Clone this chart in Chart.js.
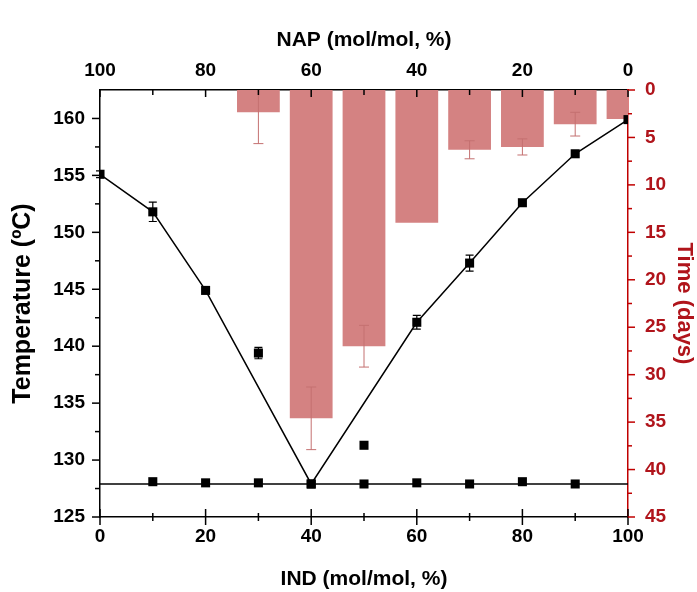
<!DOCTYPE html>
<html>
<head>
<meta charset="utf-8">
<script src="https://cdn.jsdelivr.net/npm/chart.js@4.4.0/dist/chart.umd.min.js"></script>
<style>
  html, body { margin: 0; padding: 0; background: #fff; }
  #wrap { width: 697px; height: 592px; }
</style>
</head>
<body>
<div id="wrap"><canvas id="chart"></canvas></div>
<script>
// liquidus points (joined by the V line)
const liqX = [0, 10, 20, 40, 60, 70, 80, 90, 100];
const liqTemp = [155.1, 151.8, 144.9, 127.9, 142.1, 147.3, 152.6, 156.9, 159.9];

// points off the V line
const oddX = [30, 50];
const oddTemp = [139.4, 131.3];

// eutectic points + horizontal line
const eutX = [10, 20, 30, 40, 50, 60, 70, 80, 90];
const eutTemp = [128.1, 128.0, 128.0, 127.9, 127.9, 128.0, 127.9, 128.1, 127.9];
const eutLineX = [0, 100];
const eutLineTemp = [127.9, 127.9];

// temperature error bars
const errX = [0, 10, 30, 60, 70];
const errTemp = [155.1, 151.8, 139.4, 142.1, 147.3];
const errSize = [0.3, 0.85, 0.5, 0.6, 0.7];

// time bars (days, right axis)
const barX = [30, 40, 50, 60, 70, 80, 90, 100];
const barDays = [2.35, 34.6, 27.0, 14.0, 6.3, 6.0, 3.6, 3.05];
const barErr = [3.3, 3.3, 2.2, 0, 0.95, 0.85, 1.25, 0];

// tick labels
const indTicks = [0, 20, 40, 60, 80, 100];
const napTicks = [100, 80, 60, 40, 20, 0];
const tempTicks = [125, 130, 135, 140, 145, 150, 155, 160];
const dayTicks = [0, 5, 10, 15, 20, 25, 30, 35, 40, 45];

const FONT = '"Liberation Sans", Arial, sans-serif';
const RED = '#c00000';
const RED_TEXT = '#b0141b';

const pts = (xs, ys) => xs.map((x, i) => ({ x: x, y: ys[i] }));
const mids = arr => arr.slice(1).map((v, i) => (v + arr[i]) / 2);
const setTicks = arr => s => { s.ticks = arr.map(v => ({ value: v })); };

// error bars for temperature points and time bars
const errorBars = {
    id: 'errorBars',
    afterDatasetsDraw(chart) {
        const { ctx, chartArea: a, scales } = chart;
        const x = scales.x, y = scales.y, y2 = scales.y2;
        const bar = (px, p1, p2, cap) => {
            ctx.beginPath();
            ctx.moveTo(px, p1); ctx.lineTo(px, p2);
            ctx.moveTo(px - cap, p1); ctx.lineTo(px + cap, p1);
            ctx.moveTo(px - cap, p2); ctx.lineTo(px + cap, p2);
            ctx.stroke();
        };
        ctx.save();
        ctx.beginPath();
        ctx.rect(a.left, a.top, a.right - a.left, a.bottom - a.top);
        ctx.clip();
        ctx.strokeStyle = '#c47070';
        ctx.lineWidth = 1;
        barX.forEach((v, i) => {
            if (!barErr[i]) return;
            bar(x.getPixelForValue(v),
                y2.getPixelForValue(barDays[i] - barErr[i]),
                y2.getPixelForValue(barDays[i] + barErr[i]), 5);
        });
        ctx.restore();

        ctx.save();
        ctx.strokeStyle = '#000';
        ctx.lineWidth = 1.2;
        errX.forEach((v, i) => {
            bar(x.getPixelForValue(v),
                y.getPixelForValue(errTemp[i] - errSize[i]),
                y.getPixelForValue(errTemp[i] + errSize[i]), 4);
        });
        ctx.restore();
    }
};

// major / minor tick marks like the original plot
const tickMarks = {
    id: 'tickMarks',
    afterDraw(chart) {
        const { ctx, chartArea: a, scales } = chart;
        const line = (x1, y1, x2, y2) => {
            ctx.beginPath(); ctx.moveTo(x1, y1); ctx.lineTo(x2, y2); ctx.stroke();
        };
        ctx.save();
        ctx.lineWidth = 1.5;
        ctx.strokeStyle = '#000';
        // left
        tempTicks.forEach(v => { const p = scales.y.getPixelForValue(v); line(a.left - 8, p, a.left, p); });
        mids(tempTicks).forEach(v => { const p = scales.y.getPixelForValue(v); line(a.left - 5, p, a.left, p); });
        // bottom
        indTicks.forEach(v => { const p = scales.x.getPixelForValue(v); line(p, a.bottom - 8, p, a.bottom + 8); });
        mids(indTicks).forEach(v => { const p = scales.x.getPixelForValue(v); line(p, a.bottom - 4, p, a.bottom + 4); });
        // top
        napTicks.forEach(v => { const p = scales.x2.getPixelForValue(v); line(p, a.top, p, a.top + 7); });
        mids(napTicks).forEach(v => { const p = scales.x2.getPixelForValue(v); line(p, a.top, p, a.top + 5); });
        // right
        ctx.strokeStyle = RED;
        dayTicks.forEach(v => { const p = scales.y2.getPixelForValue(v); line(a.right, p, a.right + 7, p); });
        mids(dayTicks).forEach(v => { const p = scales.y2.getPixelForValue(v); line(a.right, p, a.right + 4, p); });
        ctx.restore();
    }
};

const tickFont = { family: FONT, size: 19, weight: 'bold' };
const titleFont = { family: FONT, size: 21, weight: 'bold' };
const noGrid = { display: false, drawTicks: false, drawOnChartArea: false };

new Chart(document.getElementById('chart'), {
    type: 'bar',
    data: {
        datasets: [
            {
                type: 'line',
                data: pts(liqX, liqTemp),
                xAxisID: 'x', yAxisID: 'y',
                borderColor: '#000', borderWidth: 1.5,
                pointStyle: 'rect', pointRadius: 6.4,
                pointBackgroundColor: '#000', pointBorderWidth: 0,
                tension: 0, order: 1
            },
            {
                type: 'line',
                data: pts(eutLineX, eutLineTemp),
                xAxisID: 'x', yAxisID: 'y',
                borderColor: '#000', borderWidth: 1.5,
                pointRadius: 0, order: 2
            },
            {
                type: 'line',
                data: pts(eutX, eutTemp),
                xAxisID: 'x', yAxisID: 'y',
                showLine: false,
                pointStyle: 'rect', pointRadius: 6.4,
                pointBackgroundColor: '#000', pointBorderWidth: 0, order: 1
            },
            {
                type: 'line',
                data: pts(oddX, oddTemp),
                xAxisID: 'x', yAxisID: 'y',
                showLine: false,
                pointStyle: 'rect', pointRadius: 6.4,
                pointBackgroundColor: '#000', pointBorderWidth: 0, order: 1
            },
            {
                type: 'bar',
                data: pts(barX, barDays),
                xAxisID: 'x', yAxisID: 'y2',
                backgroundColor: '#d48282',
                borderWidth: 0,
                barPercentage: 0.81, categoryPercentage: 1,
                order: 5
            }
        ]
    },
    options: {
        responsive: true,
        maintainAspectRatio: false,
        animation: false,
        layout: { padding: 0 },
        plugins: {
            legend: { display: false },
            tooltip: { enabled: false }
        },
        scales: {
            x: {
                type: 'linear', position: 'bottom',
                min: 0, max: 100, offset: false,
                afterBuildTicks: setTicks(indTicks),
                afterFit: s => { s.height = 75; },
                grid: noGrid,
                border: { color: '#000', width: 1.5 },
                ticks: { color: '#000', font: tickFont, padding: 8, maxRotation: 0, autoSkip: false },
                title: { display: true, text: 'IND (mol/mol, %)', color: '#000', font: titleFont, padding: 0 }
            },
            x2: {
                type: 'linear', position: 'top', axis: 'x',
                min: 0, max: 100, reverse: true, offset: false,
                afterBuildTicks: setTicks(napTicks),
                afterFit: s => { s.height = 90; },
                grid: noGrid,
                border: { color: '#000', width: 1.5 },
                ticks: { color: '#000', font: tickFont, padding: 8, maxRotation: 0, autoSkip: false },
                title: { display: true, text: 'NAP (mol/mol, %)', color: '#000', font: titleFont, padding: { top: 28, bottom: 0 } }
            },
            y: {
                type: 'linear', position: 'left',
                min: 125, max: 162.5,
                afterBuildTicks: setTicks(tempTicks),
                afterFit: s => { s.width = 100; },
                grid: noGrid,
                border: { color: '#000', width: 1.5 },
                ticks: { color: '#000', font: tickFont, padding: 15 },
                title: { display: true, text: 'Temperature (ºC)', color: '#000', font: { family: FONT, size: 25, weight: 'bold' }, padding: { top: 8, bottom: 0 } }
            },
            y2: {
                type: 'linear', position: 'right', axis: 'y',
                min: 0, max: 45, reverse: true,
                afterBuildTicks: setTicks(dayTicks),
                afterFit: s => { s.width = 69; },
                grid: noGrid,
                border: { color: RED, width: 1.5 },
                ticks: { color: RED_TEXT, font: tickFont, padding: 17 },
                title: { display: true, text: 'Time (days)', color: RED_TEXT, font: { family: FONT, size: 22, weight: 'bold' }, padding: { top: 0, bottom: 0 } }
            }
        }
    },
    plugins: [errorBars, tickMarks]
});
</script>
</body>
</html>
